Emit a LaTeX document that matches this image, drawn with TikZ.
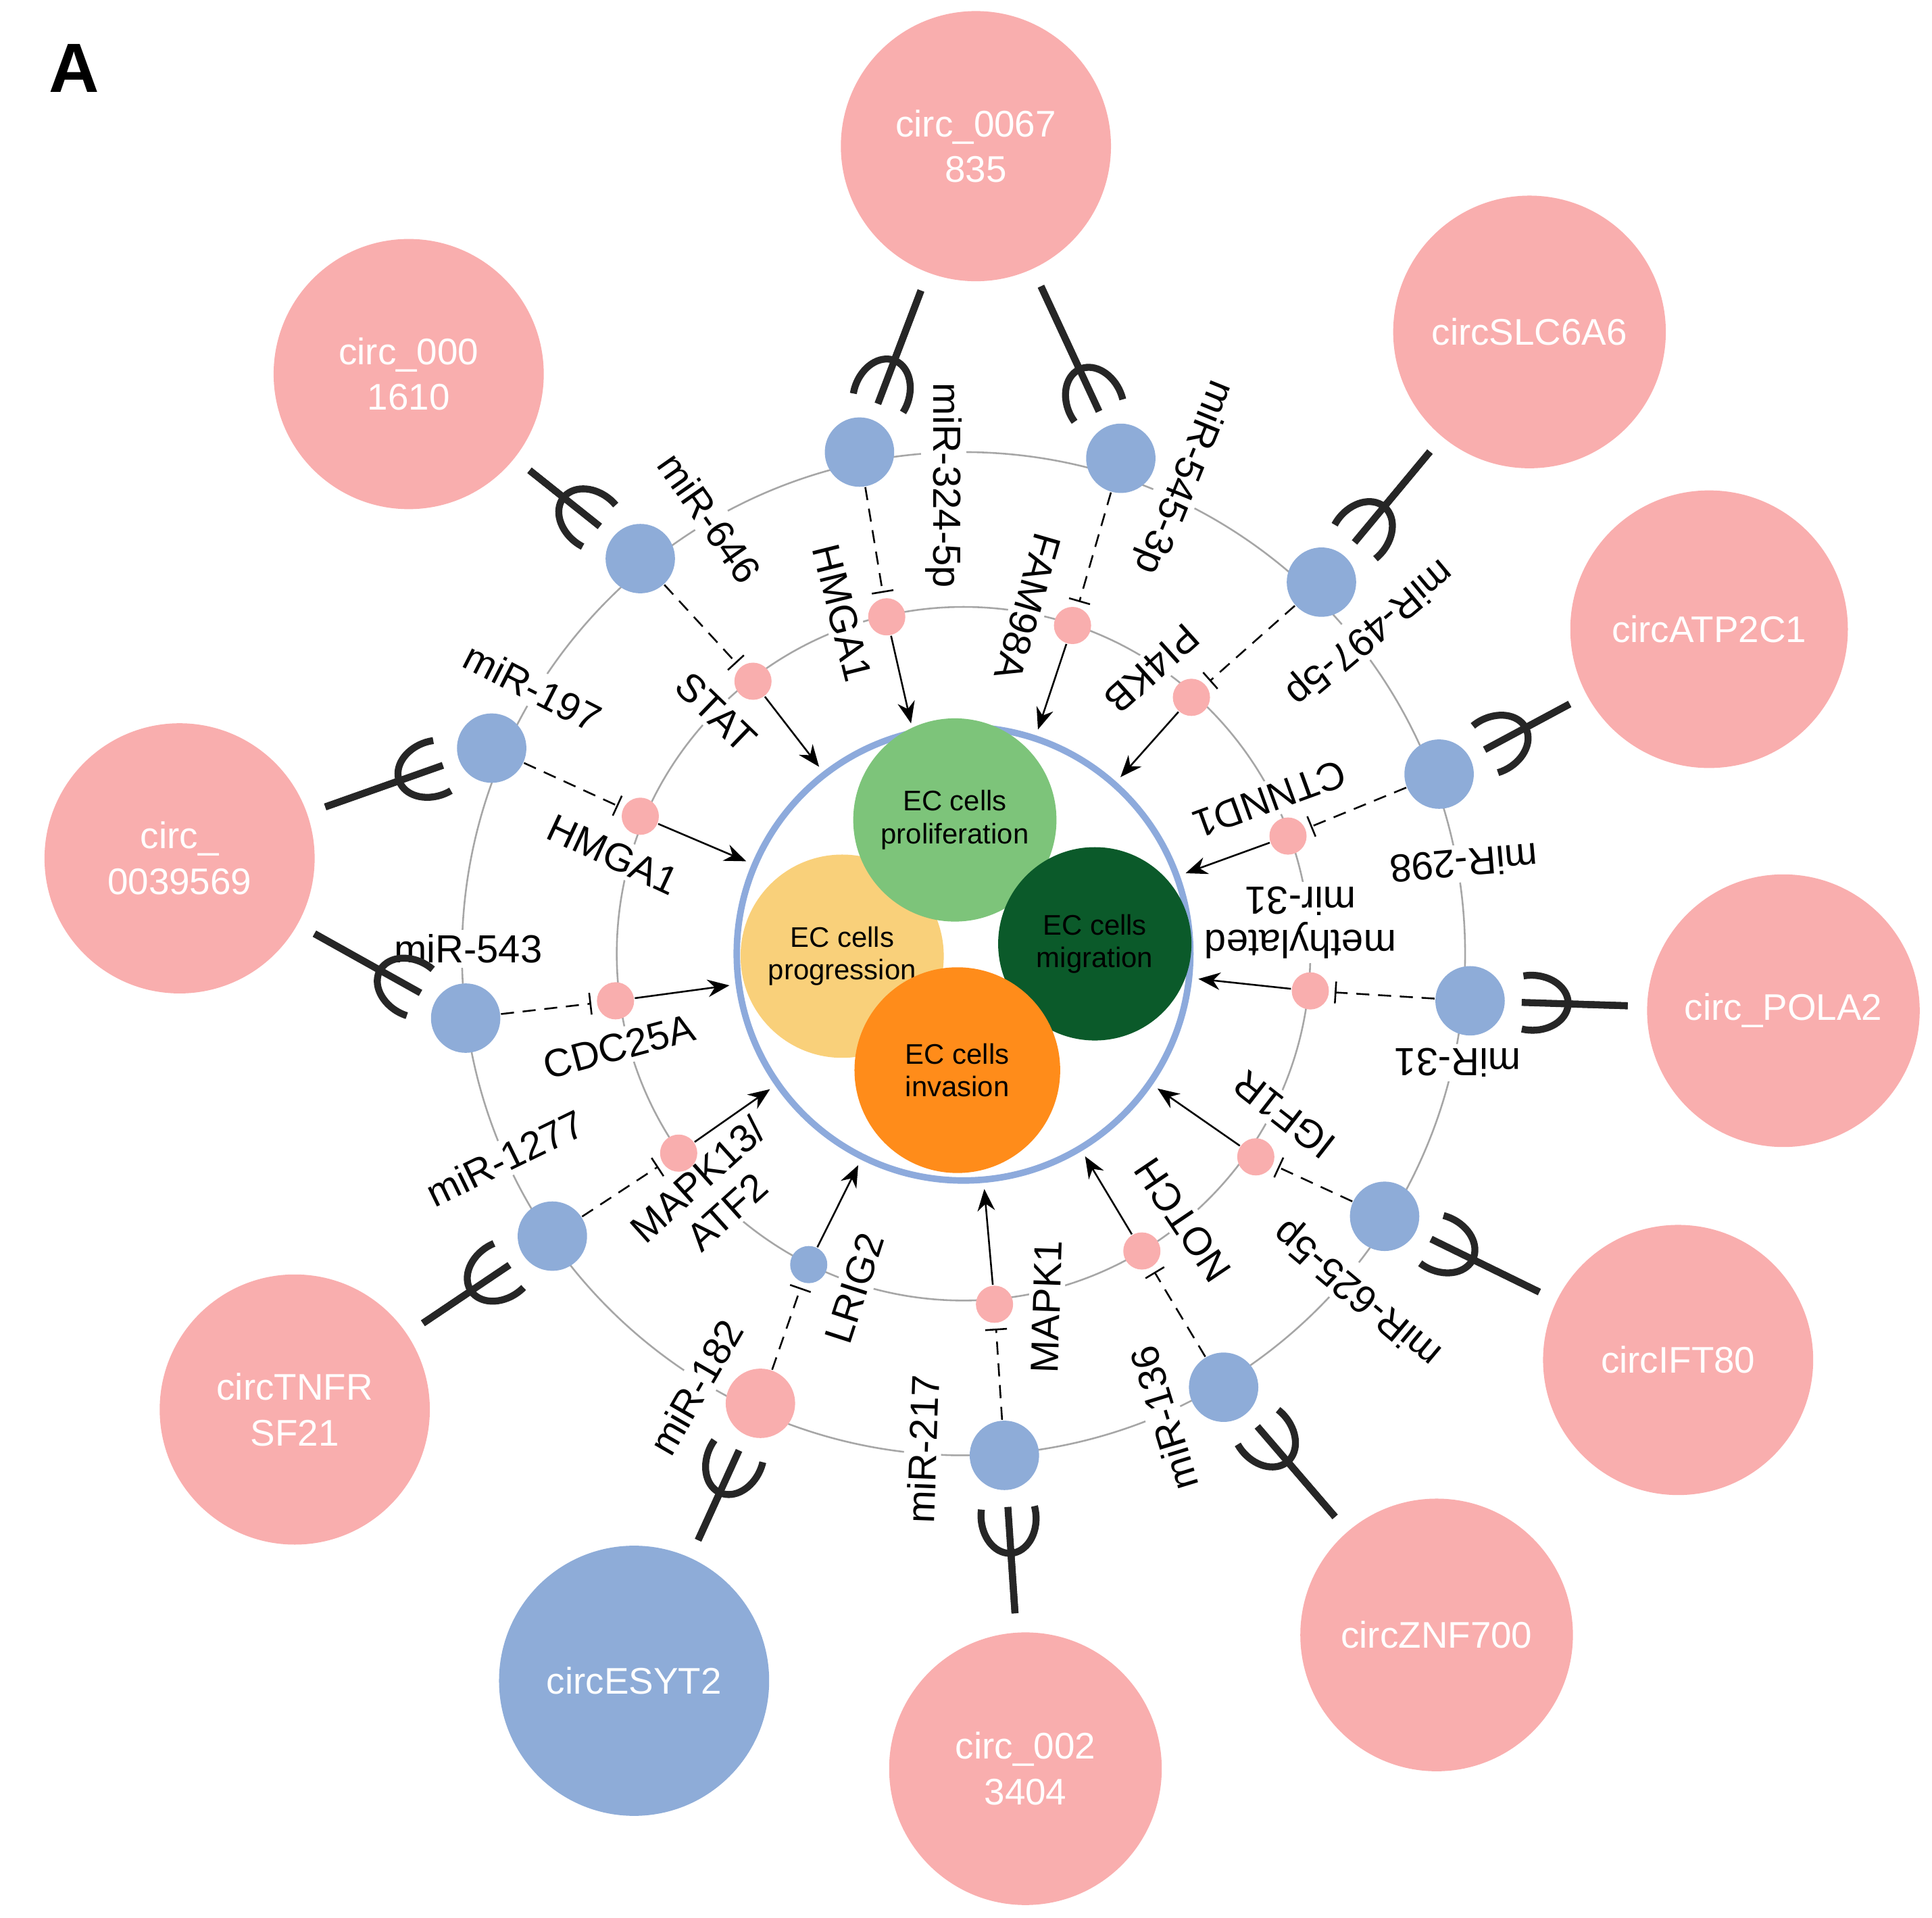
\documentclass[tikz,border=0pt]{standalone}
\usepackage{fontspec}
\setmainfont{Liberation Sans}
\usetikzlibrary{arrows.meta}
\definecolor{circpink}{HTML}{F9AEAE}
\definecolor{mirblue}{HTML}{8EACD8}
\definecolor{ringblue}{HTML}{8DAADC}
\definecolor{progyellow}{HTML}{F9D07A}
\definecolor{prolgreen}{HTML}{7DC47A}
\definecolor{migrgreen}{HTML}{0B5A2A}
\definecolor{invorange}{HTML}{FF8C1A}
\tikzset{
  circ/.style={circle, fill=circpink, minimum size=2.18cm, inner sep=0pt,
               text=white, align=center, font=\fontsize{8.5}{10.5}\selectfont},
  mir/.style={circle, fill=mirblue, minimum size=0.56cm, inner sep=0pt},
  tgt/.style={circle, fill=circpink, minimum size=0.30cm, inner sep=0pt},
  cell/.style={circle, inner sep=0pt, align=center, font=\fontsize{6.5}{7.5}\selectfont},
  lbl/.style={fill=white, inner sep=1pt, align=center, font=\fontsize{9}{10}\selectfont},
  sponge/.style={line width=1.6pt, draw=black!85, shorten <=0.15cm, shorten >=0.13cm,
                 -{Arc Barb[reversed, length=0.32cm, width=0.5cm, arc=210]},
                 postaction={draw, -}},
  inhib/.style={densely dashed, thin, shorten >=0.04cm, -{Bar[width=5pt]}},
  act/.style={thin, shorten >=0.05cm, -{Stealth[length=5pt, width=4pt]}},
}
\begin{document}
\begin{tikzpicture}[x=0.01cm, y=-0.01cm]
  \useasboundingbox (0,0) rectangle (1560,1548);
  \node[font=\fontsize{16}{18}\selectfont\bfseries] (panel) at (60,55) {A};

  % rings
  \draw[gray!70, thin] (778,770) circle[radius=405];
  \draw[gray!70, thin] (778,770) circle[radius=280];

  % labels
  \node[lbl, rotate=-90] (l324) at (762,392) {miR-324-5p};
  \node[lbl, rotate=-112] (l545) at (955,385) {miR-545-3p};
  \node[lbl, rotate=-55] (l646) at (573,418) {miR-646};
  \node[lbl, rotate=-76] (lhmgaa) at (680,495) {HMGA1};
  \node[lbl, rotate=-106] (lfam) at (830,490) {FAM98A};
  \node[lbl, rotate=-138] (lpi4kb) at (930,540) {PI4KB};
  \node[lbl, rotate=-140] (l497) at (1105,510) {miR-497-5p};
  \node[lbl, rotate=-44] (lstat) at (578,575) {STAT};
  \node[lbl, rotate=-27] (l197) at (430,555) {miR-197};
  \node[lbl, rotate=-160] (lctnnd) at (1025,645) {CTNND1};
  \node[lbl, rotate=-25] (lhmgab) at (495,690) {HMGA1};
  \node[lbl, rotate=-175] (l298) at (1182,697) {miR-298};
  \node[lbl, rotate=180] (lmeth) at (1050,745) {methylated\\mir-31};
  \node[lbl] (l543) at (378,766) {miR-543};
  \node[lbl, rotate=15] (lcdc) at (500,845) {CDC25A};
  \node[lbl, rotate=180] (l31) at (1177,858) {miR-31};
  \node[lbl, rotate=26] (l1277) at (408,935) {miR-1277};
  \node[lbl, rotate=42] (lmapkb) at (575,965) {MAPK13/\\ATF2};
  \node[lbl, rotate=142] (ligf) at (1037,900) {IGF1R};
  \node[lbl, rotate=140] (l625) at (1097,1043) {miR-625-5p};
  \node[lbl, rotate=72] (llrig) at (690,1040) {LRIG2};
  \node[lbl, rotate=124] (lnotch) at (955,985) {NOTCH};
  \node[lbl, rotate=88] (lmapka) at (845,1055) {MAPK1};
  \node[lbl, rotate=60] (l182) at (562,1120) {miR-182};
  \node[lbl, rotate=88] (l217) at (745,1170) {miR-217};
  \node[lbl, rotate=107] (l136) at (940,1145) {miR-136};

  % central cells
  \node[circle, draw=ringblue, line width=1.5pt, minimum size=3.66cm] (cells) at (778,770) {};
  \node[cell, fill=progyellow, minimum size=1.64cm] (prog) at (680,772) {EC cells\\progression};
  \node[cell, fill=prolgreen, minimum size=1.64cm] (prol) at (771,662) {EC cells\\proliferation};
  \node[cell, fill=migrgreen, minimum size=1.56cm] (migr) at (884,762) {EC cells\\migration};
  \node[cell, fill=invorange, minimum size=1.66cm] (inva) at (773,864) {EC cells\\invasion};

  % circRNAs
  \node[circ] (c67835) at (788,118) {circ\_0067\\835};
  \node[circ] (c1610) at (330,302) {circ\_000\\1610};
  \node[circ, minimum size=2.2cm] (cslc) at (1235,268) {circSLC6A6};
  \node[circ, minimum size=2.24cm] (catp) at (1380,508) {circATP2C1};
  \node[circ] (c39569) at (145,693) {circ\_\\0039569};
  \node[circ, minimum size=2.2cm] (cpola) at (1440,816) {circ\_POLA2};
  \node[circ] (cift) at (1355,1098) {circIFT80};
  \node[circ, minimum size=2.2cm] (cznf) at (1160,1320) {circZNF700};
  \node[circ, minimum size=2.2cm] (c23404) at (828,1428) {circ\_002\\3404};
  \node[circ, fill=mirblue] (cesyt) at (512,1357) {circESYT2};
  \node[circ] (ctnfr) at (238,1138) {circTNFR\\SF21};

  % miRNAs
  \node[mir] (m324) at (694,365) {};
  \node[mir] (m545) at (905,370) {};
  \node[mir] (m646) at (517,451) {};
  \node[mir] (m497) at (1067,470) {};
  \node[mir] (m197) at (397,604) {};
  \node[mir] (m298) at (1162,625) {};
  \node[mir] (m543) at (376,822) {};
  \node[mir] (m31) at (1187,808) {};
  \node[mir] (m625) at (1118,982) {};
  \node[mir] (m1277) at (446,998) {};
  \node[mir] (m136) at (988,1120) {};
  \node[mir] (m217) at (811,1175) {};
  \node[mir, fill=circpink] (m182) at (614,1133) {};

  % targets
  \node[tgt] (thmgaa) at (716,498) {};
  \node[tgt] (tfam) at (866,505) {};
  \node[tgt] (tstat) at (608,550) {};
  \node[tgt] (tpi4kb) at (962,563) {};
  \node[tgt] (thmgab) at (517,659) {};
  \node[tgt] (tctnnd) at (1040,675) {};
  \node[tgt] (tcdc) at (497,808) {};
  \node[tgt] (tmeth) at (1058,800) {};
  \node[tgt] (tmapkb) at (548,931) {};
  \node[tgt] (tigf) at (1014,934) {};
  \node[tgt] (tnotch) at (922,1010) {};
  \node[tgt] (tmapka) at (803,1053) {};
  \node[tgt, fill=mirblue] (tlrig) at (653,1021) {};

  % sponging
  \draw[sponge] (c67835) -- (m324);
  \draw[sponge] (c67835) -- (m545);
  \draw[sponge] (c1610) -- (m646);
  \draw[sponge] (cslc) -- (m497);
  \draw[sponge] (catp) -- (m298);
  \draw[sponge] (c39569) -- (m197);
  \draw[sponge] (c39569) -- (m543);
  \draw[sponge] (cpola) -- (m31);
  \draw[sponge] (cift) -- (m625);
  \draw[sponge] (cznf) -- (m136);
  \draw[sponge] (c23404) -- (m217);
  \draw[sponge] (cesyt) -- (m182);
  \draw[sponge] (ctnfr) -- (m1277);

  % inhibition
  \draw[inhib] (m324) -- (thmgaa);
  \draw[inhib] (m545) -- (tfam);
  \draw[inhib] (m646) -- (tstat);
  \draw[inhib] (m497) -- (tpi4kb);
  \draw[inhib] (m197) -- (thmgab);
  \draw[inhib] (m298) -- (tctnnd);
  \draw[inhib] (m543) -- (tcdc);
  \draw[inhib] (m31) -- (tmeth);
  \draw[inhib] (m625) -- (tigf);
  \draw[inhib] (m1277) -- (tmapkb);
  \draw[inhib] (m136) -- (tnotch);
  \draw[inhib] (m217) -- (tmapka);
  \draw[inhib] (m182) -- (tlrig);

  % effects
  \foreach \t in {thmgaa, tfam, tstat, tpi4kb, thmgab, tctnnd, tcdc,
                  tmeth, tmapkb, tigf, tnotch, tmapka, tlrig}
    \draw[act] (\t) -- (cells);
\end{tikzpicture}
\end{document}
